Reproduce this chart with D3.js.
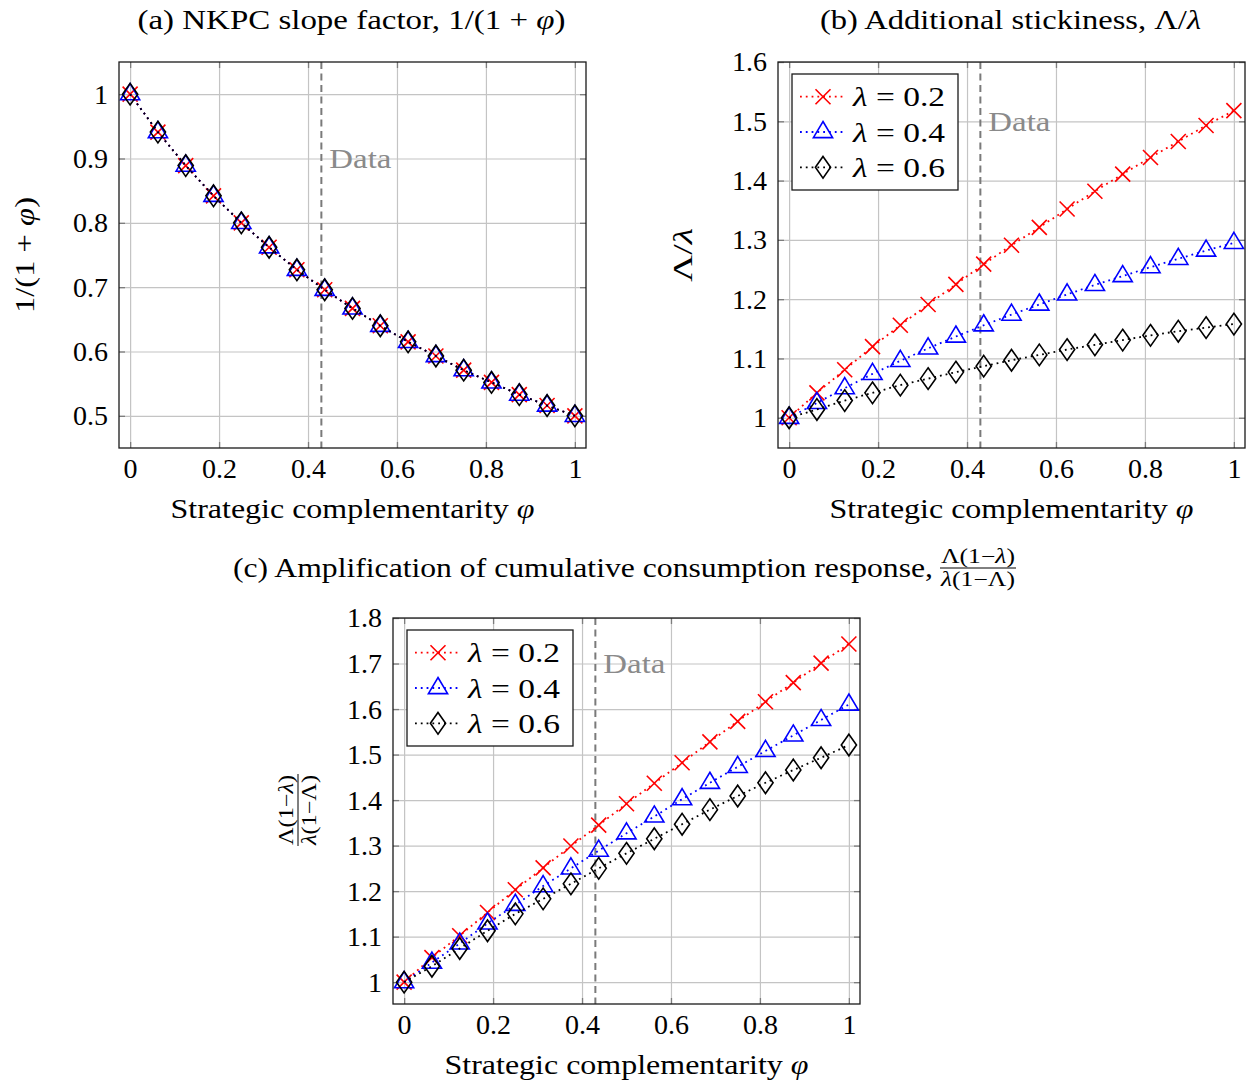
<!DOCTYPE html>
<html><head><meta charset="utf-8">
<script src="https://cdn.jsdelivr.net/npm/d3@7"></script>
<style>
html,body{margin:0;padding:0;background:#fff;}
svg{display:block;}
text{font-family:"Liberation Serif","Times New Roman",serif;}
</style></head><body>
<svg id="chart" width="1253" height="1087"></svg>
<script>
// ---------------- data ----------------
const phiValues = [0, 0.0625, 0.125, 0.1875, 0.25, 0.3125, 0.375, 0.4375, 0.5, 0.5625, 0.625, 0.6875, 0.75, 0.8125, 0.875, 0.9375, 1];
const dataPhi = 0.43;
const seriesLabels = ["0.2", "0.4", "0.6"];

const xTicks = [0, 0.2, 0.4, 0.6, 0.8, 1];
const xTickLabels = ["0", "0.2", "0.4", "0.6", "0.8", "1"];

// Panel (a): 1/(1+phi), identical for the three lambdas
const aLam02 = [1.000, 0.941, 0.889, 0.842, 0.800, 0.762, 0.727, 0.696, 0.667, 0.640, 0.615, 0.593, 0.571, 0.552, 0.533, 0.516, 0.500];
const aLam04 = [1.000, 0.941, 0.889, 0.842, 0.800, 0.762, 0.727, 0.696, 0.667, 0.640, 0.615, 0.593, 0.571, 0.552, 0.533, 0.516, 0.500];
const aLam06 = [1.000, 0.941, 0.889, 0.842, 0.800, 0.762, 0.727, 0.696, 0.667, 0.640, 0.615, 0.593, 0.571, 0.552, 0.533, 0.516, 0.500];
const aYTicks = [0.5, 0.6, 0.7, 0.8, 0.9, 1];
const aYTickLabels = ["0.5", "0.6", "0.7", "0.8", "0.9", "1"];

// Panel (b): Lambda / lambda
const bLam02 = [1.000, 1.042, 1.081, 1.120, 1.156, 1.191, 1.225, 1.259, 1.291, 1.321, 1.352, 1.382, 1.411, 1.439, 1.466, 1.493, 1.518];
const bLam04 = [1.000, 1.025, 1.050, 1.074, 1.096, 1.117, 1.137, 1.156, 1.174, 1.191, 1.208, 1.224, 1.239, 1.254, 1.268, 1.282, 1.295];
const bLam06 = [1.000, 1.014, 1.029, 1.042, 1.055, 1.066, 1.077, 1.087, 1.097, 1.106, 1.115, 1.123, 1.131, 1.139, 1.146, 1.152, 1.158];
const bYTicks = [1, 1.1, 1.2, 1.3, 1.4, 1.5, 1.6];
const bYTickLabels = ["1", "1.1", "1.2", "1.3", "1.4", "1.5", "1.6"];

// Panel (c): amplification of cumulative consumption response
const cLam02 = [1.000, 1.054, 1.102, 1.153, 1.203, 1.251, 1.299, 1.345, 1.392, 1.437, 1.482, 1.528, 1.573, 1.616, 1.658, 1.701, 1.743];
const cLam04 = [1.000, 1.043, 1.085, 1.129, 1.170, 1.211, 1.250, 1.289, 1.327, 1.364, 1.402, 1.438, 1.473, 1.508, 1.542, 1.576, 1.610];
const cLam06 = [1.000, 1.035, 1.074, 1.113, 1.150, 1.183, 1.216, 1.250, 1.283, 1.315, 1.347, 1.379, 1.409, 1.438, 1.466, 1.493, 1.521];
const cYTicks = [1, 1.1, 1.2, 1.3, 1.4, 1.5, 1.6, 1.7, 1.8];
const cYTickLabels = ["1", "1.1", "1.2", "1.3", "1.4", "1.5", "1.6", "1.7", "1.8"];

// ---------------- styles ----------------
const FS = 28;
const seriesStyle = [
  {color: "#ff0000", mark: "cross"},
  {color: "#0000ff", mark: "triangle"},
  {color: "#000000", mark: "diamond"}
];
const GRID = "#c4c4c4", TICK = "#7d7d7d", FRAME = "#1a1a1a", DASH = "#7a7a7a", DATA_TXT = "#8a8a8a";

const svg = d3.select("#chart");

function markPath(type) {
  if (type === "cross") return "M-7.5,-7.5L7.5,7.5M-7.5,7.5L7.5,-7.5";
  if (type === "triangle") return "M0,-10.5L9.6,5.6L-9.6,5.6Z";
  return "M0,-10.8L7.6,0L0,10.8L-7.6,0Z";
}

function drawPanel(cfg) {
  const g = svg.append("g");
  const x = d3.scaleLinear().domain([-0.025, 1.025]).range([cfg.left, cfg.right]);
  const y = d3.scaleLinear().domain(cfg.yDomain).range([cfg.bottom, cfg.top]);
  const W = cfg.right - cfg.left, H = cfg.bottom - cfg.top;

  // grid
  g.append("g").attr("transform", `translate(0,${cfg.bottom})`)
    .call(d3.axisBottom(x).tickValues(xTicks).tickSize(-H).tickFormat(""))
    .call(s => { s.select(".domain").remove(); s.selectAll("line").attr("stroke", GRID).attr("stroke-width", 1.2); });
  g.append("g").attr("transform", `translate(${cfg.left},0)`)
    .call(d3.axisLeft(y).tickValues(cfg.yTicks).tickSize(-W).tickFormat(""))
    .call(s => { s.select(".domain").remove(); s.selectAll("line").attr("stroke", GRID).attr("stroke-width", 1.2); });

  // inward ticks on all four sides
  const tk = 6;
  const styleTicks = s => { s.select(".domain").remove(); s.selectAll("line").attr("stroke", TICK).attr("stroke-width", 1.3); };
  g.append("g").attr("transform", `translate(0,${cfg.bottom})`).call(d3.axisBottom(x).tickValues(xTicks).tickSize(-tk).tickFormat("")).call(styleTicks);
  g.append("g").attr("transform", `translate(0,${cfg.top})`).call(d3.axisTop(x).tickValues(xTicks).tickSize(-tk).tickFormat("")).call(styleTicks);
  g.append("g").attr("transform", `translate(${cfg.left},0)`).call(d3.axisLeft(y).tickValues(cfg.yTicks).tickSize(-tk).tickFormat("")).call(styleTicks);
  g.append("g").attr("transform", `translate(${cfg.right},0)`).call(d3.axisRight(y).tickValues(cfg.yTicks).tickSize(-tk).tickFormat("")).call(styleTicks);

  // tick labels
  g.append("g").attr("transform", `translate(0,${cfg.bottom})`)
    .call(d3.axisBottom(x).tickValues(xTicks).tickSize(0).tickFormat((d, i) => xTickLabels[i]))
    .call(s => { s.select(".domain").remove(); s.selectAll("text").attr("y", 30).attr("dy", null).attr("font-size", FS).attr("font-family", null).attr("fill", "#000"); });
  g.append("g").attr("transform", `translate(${cfg.left},0)`)
    .call(d3.axisLeft(y).tickValues(cfg.yTicks).tickSize(0).tickFormat((d, i) => cfg.yTickLabels[i]))
    .call(s => { s.select(".domain").remove(); s.selectAll("text").attr("x", -11).attr("dy", "0.32em").attr("font-size", FS).attr("font-family", null).attr("fill", "#000"); });

  // data line
  g.append("line").attr("x1", x(dataPhi)).attr("x2", x(dataPhi)).attr("y1", cfg.top).attr("y2", cfg.bottom)
    .attr("stroke", DASH).attr("stroke-width", 2).attr("stroke-dasharray", "7,4.5");
  g.append("text").attr("x", x(dataPhi) + 8).attr("y", y(cfg.dataY)).attr("dy", "0.33em")
    .attr("font-size", FS).attr("fill", DATA_TXT).attr("textLength", 62).attr("lengthAdjust", "spacingAndGlyphs").text("Data");

  // series
  const line = d3.line().x((d, i) => x(phiValues[i])).y(d => y(d));
  cfg.series.forEach((vals, k) => {
    const st = seriesStyle[k];
    g.append("path").attr("d", line(vals)).attr("fill", "none").attr("stroke", st.color)
      .attr("stroke-width", 1.8).attr("stroke-dasharray", "1.8,4").attr("stroke-linecap", "butt");
    g.append("g").selectAll("path").data(vals).join("path")
      .attr("transform", (d, i) => `translate(${x(phiValues[i])},${y(d)})`)
      .attr("d", markPath(st.mark)).attr("fill", "none").attr("stroke", st.color).attr("stroke-width", 1.6)
      .attr("stroke-linejoin", "miter");
  });

  // frame
  g.append("rect").attr("x", cfg.left).attr("y", cfg.top).attr("width", W).attr("height", H)
    .attr("fill", "none").attr("stroke", FRAME).attr("stroke-width", 1.3);

  // legend
  if (cfg.legend) {
    const lg = g.append("g").attr("transform", `translate(${cfg.left + 14},${cfg.top + 12})`);
    lg.append("rect").attr("width", 166).attr("height", 116).attr("fill", "#fff").attr("stroke", FRAME).attr("stroke-width", 1.3);
    seriesLabels.forEach((lab, k) => {
      const st = seriesStyle[k];
      const cy = 22.7 + k * 35.3;
      lg.append("line").attr("x1", 8).attr("x2", 53).attr("y1", cy).attr("y2", cy)
        .attr("stroke", st.color).attr("stroke-width", 1.8).attr("stroke-dasharray", "1.8,4");
      lg.append("path").attr("transform", `translate(31,${cy})`).attr("d", markPath(st.mark))
        .attr("fill", "none").attr("stroke", st.color).attr("stroke-width", 1.6);
      const t = lg.append("text").attr("x", 61).attr("y", cy + 9.5).attr("font-size", FS)
        .attr("textLength", 92).attr("lengthAdjust", "spacingAndGlyphs");
      t.append("tspan").attr("font-style", "italic").text("λ");
      t.append("tspan").text(" = " + lab);
    });
  }

  // x label
  const xl = g.append("text").attr("x", (cfg.left + cfg.right) / 2).attr("y", cfg.bottom + 70)
    .attr("text-anchor", "middle").attr("font-size", FS).attr("textLength", 364).attr("lengthAdjust", "spacingAndGlyphs");
  xl.append("tspan").text("Strategic complementarity ");
  xl.append("tspan").attr("font-style", "italic").text("φ");
  return g;
}

// Panel (a)
drawPanel({left: 119, right: 586, top: 62, bottom: 448, yDomain: [0.45, 1.05],
  yTicks: aYTicks, yTickLabels: aYTickLabels, series: [aLam02, aLam04, aLam06], dataY: 0.9, legend: false});
// Panel (b)
drawPanel({left: 778, right: 1245, top: 62, bottom: 448, yDomain: [0.949, 1.6],
  yTicks: bYTicks, yTickLabels: bYTickLabels, series: [bLam02, bLam04, bLam06], dataY: 1.5, legend: true});
// Panel (c)
drawPanel({left: 393, right: 860, top: 618, bottom: 1004, yDomain: [0.952, 1.8],
  yTicks: cYTicks, yTickLabels: cYTickLabels, series: [cLam02, cLam04, cLam06], dataY: 1.7, legend: true});

// Titles
const ta = svg.append("text").attr("x", 351.5).attr("y", 29).attr("text-anchor", "middle").attr("font-size", FS)
  .attr("textLength", 428).attr("lengthAdjust", "spacingAndGlyphs");
ta.append("tspan").text("(a) NKPC slope factor, 1/(1 + ");
ta.append("tspan").attr("font-style", "italic").text("φ");
ta.append("tspan").text(")");

const tb = svg.append("text").attr("x", 1010.5).attr("y", 29).attr("text-anchor", "middle").attr("font-size", FS)
  .attr("textLength", 381).attr("lengthAdjust", "spacingAndGlyphs");
tb.append("tspan").text("(b) Additional stickiness, Λ/");
tb.append("tspan").attr("font-style", "italic").text("λ");

svg.append("text").attr("x", 233).attr("y", 577).attr("font-size", FS)
  .attr("textLength", 700).attr("lengthAdjust", "spacingAndGlyphs")
  .text("(c) Amplification of cumulative consumption response,");

function fraction(parent, cx, cy, len) {
  const fs = 20;
  const num = parent.append("text").attr("x", cx).attr("y", cy - 5).attr("text-anchor", "middle").attr("font-size", fs)
    .attr("textLength", len).attr("lengthAdjust", "spacingAndGlyphs");
  num.append("tspan").text("Λ(1−");
  num.append("tspan").attr("font-style", "italic").text("λ");
  num.append("tspan").text(")");
  parent.append("line").attr("x1", cx - len / 2 - 1).attr("x2", cx + len / 2 + 1).attr("y1", cy).attr("y2", cy)
    .attr("stroke", "#000").attr("stroke-width", 1);
  const den = parent.append("text").attr("x", cx).attr("y", cy + 18).attr("text-anchor", "middle").attr("font-size", fs)
    .attr("textLength", len).attr("lengthAdjust", "spacingAndGlyphs");
  den.append("tspan").attr("font-style", "italic").text("λ");
  den.append("tspan").text("(1−Λ)");
}
fraction(svg.append("g"), 978, 568, 74);

// Y labels
const ya = svg.append("text").attr("transform", "translate(34,255) rotate(-90)").attr("text-anchor", "middle")
  .attr("font-size", FS).attr("textLength", 116).attr("lengthAdjust", "spacingAndGlyphs");
ya.append("tspan").text("1/(1 + ");
ya.append("tspan").attr("font-style", "italic").text("φ");
ya.append("tspan").text(")");

const yb = svg.append("text").attr("transform", "translate(692,255) rotate(-90)").attr("text-anchor", "middle")
  .attr("font-size", FS).attr("textLength", 54).attr("lengthAdjust", "spacingAndGlyphs");
yb.append("tspan").text("Λ/");
yb.append("tspan").attr("font-style", "italic").text("λ");

fraction(svg.append("g").attr("transform", "translate(298,810) rotate(-90) translate(-298,-810)"), 298, 810, 70);
</script>
</body></html>
